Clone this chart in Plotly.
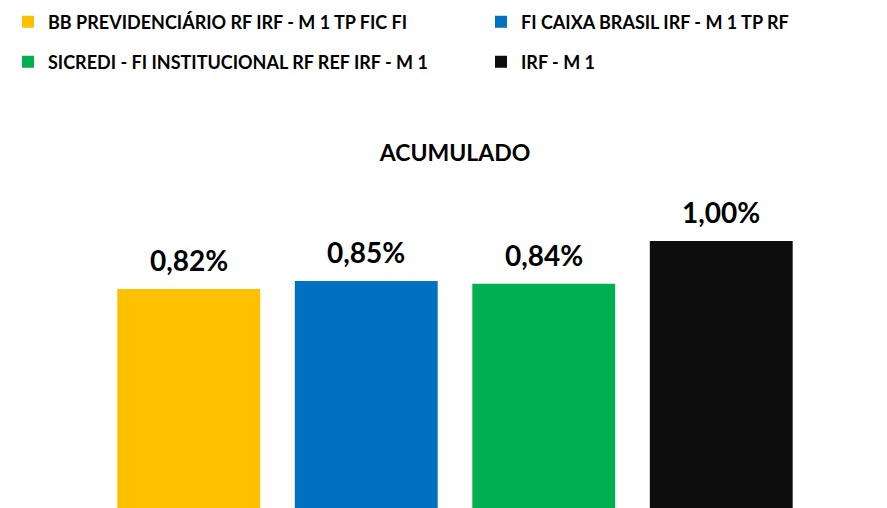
import plotly.graph_objects as go

names = [
    "BB PREVIDENCIÁRIO RF IRF - M 1 TP FIC FI",
    "FI CAIXA BRASIL IRF - M 1 TP RF",
    "SICREDI - FI INSTITUCIONAL RF REF IRF - M 1",
    "IRF - M 1",
]
values = [0.82, 0.85, 0.84, 1.00]
colors = ["#FFC000", "#0070C0", "#00B050", "#0D0D0D"]
legend_ids = ["legend", "legend2", "legend3", "legend4"]

FONT = "Lato, Calibri, Arial, sans-serif"
OFF = 8  # page body margin

fig = go.Figure()
for n, v, c, lg in zip(names, values, colors, legend_ids):
    fig.add_trace(go.Bar(x=[n], y=[v], name=n, marker=dict(color=c, line=dict(width=0)),
                         legend=lg, hoverinfo="skip"))
    fig.add_annotation(x=n, y=v, text="<b>" + f"{v:.2f}".replace(".", ",") + "%</b>",
                       showarrow=False, yanchor="bottom", yshift=10,
                       font=dict(family=FONT, size=28, color="#000000"))

legend_common = dict(orientation="h", xref="container", yref="container", xanchor="left",
                     yanchor="middle", bgcolor="rgba(0,0,0,0)",
                     font=dict(family=FONT, size=18, color="#000000", weight="bold"),
                     itemclick=False, itemdoubleclick=False)

col2 = (495 - 22) / 887
row1 = 1 - (22 - OFF) / 508
row2 = 1 - (62 - OFF) / 508

fig.update_layout(
    width=887, height=508,
    margin=dict(l=100 - OFF, r=77 + OFF, t=0, b=OFF, autoexpand=False),
    paper_bgcolor="white", plot_bgcolor="white",
    barmode="overlay", bargap=0.195,
    title=dict(text="<b>ACUMULADO</b>", x=(455 - OFF)/887, xanchor="center", xref="container",
               y=1 - (153 - OFF)/508, yanchor="middle", yref="container",
               font=dict(family=FONT, size=23, color="#000000")),
    xaxis=dict(showticklabels=False, showgrid=False, zeroline=False, showline=False,
               fixedrange=True),
    yaxis=dict(range=[0, 500/267], showticklabels=False, showgrid=False, zeroline=False,
               showline=False, fixedrange=True),
    legend=dict(x=0.0, y=row1, **legend_common),
    legend2=dict(x=col2, y=row1, **legend_common),
    legend3=dict(x=0.0, y=row2, **legend_common),
    legend4=dict(x=col2, y=row2, **legend_common),
    showlegend=True,
)

fig.write_html("out.html")
